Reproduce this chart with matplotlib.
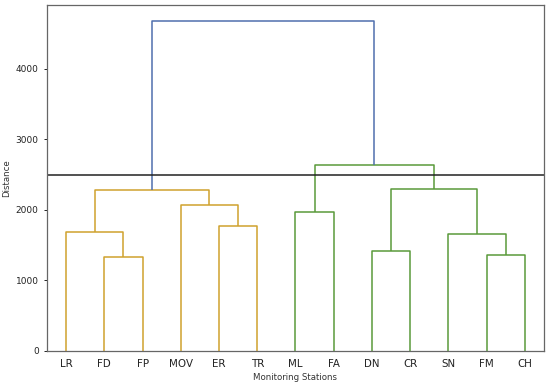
import matplotlib
matplotlib.use("Agg")
import matplotlib.pyplot as plt

# leaf order as drawn
stations = ["LR", "FD", "FP", "MOV", "ER", "TR", "ML", "FA", "DN", "CR", "SN", "FM", "CH"]

# merges: (left child, right child, height); new nodes are numbered from len(stations)
merge_left = ["FD", "LR", "ER", "MOV", 14, "ML", "DN", "FM", "SN", 19, 18, 17]
merge_right = ["FP", 13, "TR", 15, 16, "FA", "CR", "CH", 20, 21, 22, 23]
merge_height = [1330, 1690, 1775, 2075, 2275, 1965, 1415, 1365, 1660, 2300, 2640, 4670]
merge_group = ["A", "A", "A", "A", "A", "B", "B", "B", "B", "B", "B", "top"]

threshold = 2500
group_colors = {"A": "#cfa22e", "B": "#5a9a3a", "top": "#4f6fae"}

fig, ax = plt.subplots(figsize=(5.5, 3.86), dpi=100)
fig.subplots_adjust(left=0.0855, right=0.989, bottom=0.0907, top=0.987)

pos = {}
height = {}
for i, name in enumerate(stations):
    pos[name] = 5 + 10 * i
    height[name] = 0

for k, (a, b, h) in enumerate(zip(merge_left, merge_right, merge_height)):
    node = len(stations) + k
    xa, xb = pos[a], pos[b]
    ax.plot([xa, xa, xb, xb], [height[a], h, h, height[b]],
            color=group_colors[merge_group[k]], lw=1.1, solid_capstyle="butt")
    pos[node] = (xa + xb) / 2
    height[node] = h

ax.axhline(threshold, color="#222222", lw=1.1)

ax.set_xlim(0, 10 * len(stations))
ax.set_ylim(0, max(merge_height) * 1.05)
ax.set_xticks([5 + 10 * i for i in range(len(stations))])
ax.set_xticklabels(stations, fontsize=7.4, color="#222222")
ax.set_yticks([0, 1000, 2000, 3000, 4000])
ax.tick_params(axis="x", length=0, pad=6)
ax.tick_params(axis="y", labelsize=6.5, length=2.5, width=0.6, labelcolor="#222222")
ax.set_xlabel("Monitoring Stations", fontsize=6.2, color="#333333", labelpad=3)
ax.set_ylabel("Distance", fontsize=6.2, color="#333333", labelpad=3)
for s in ax.spines.values():
    s.set_color("#666666")
    s.set_linewidth(0.9)

plt.savefig("out.png", dpi=100)
plt.close()
